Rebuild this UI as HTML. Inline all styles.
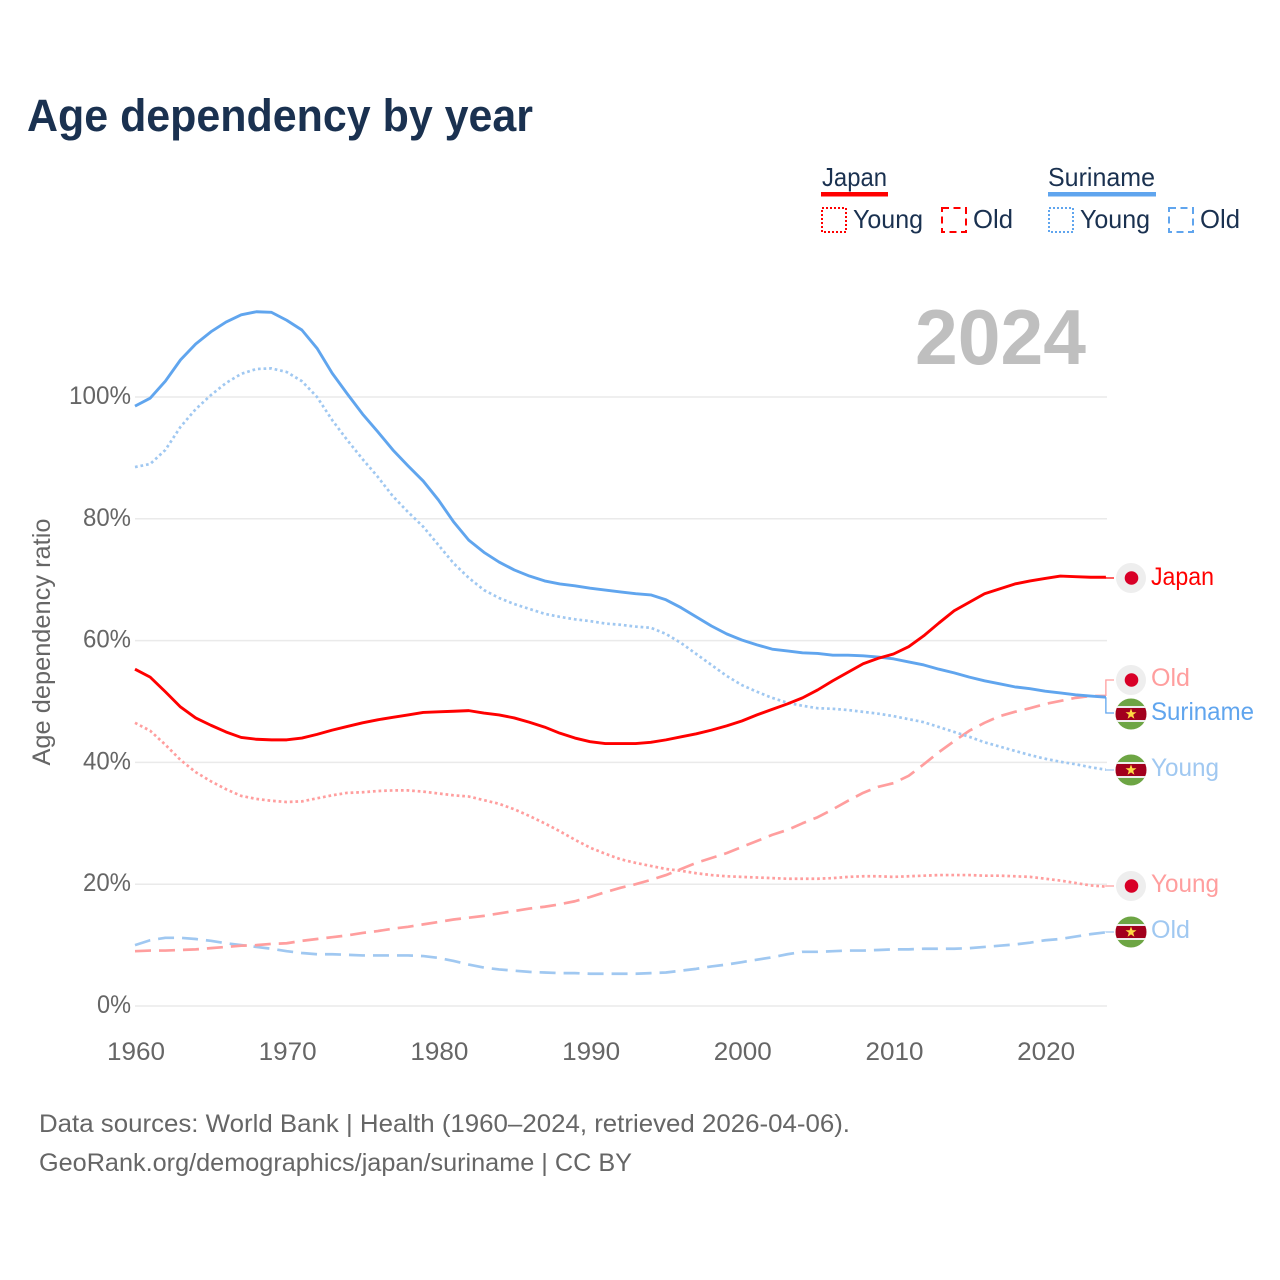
<!DOCTYPE html>
<html lang="en">
<head>
<meta charset="utf-8">
<title>Age dependency by year</title>
<style>
html,body{margin:0;padding:0;background:#fff;}
svg{display:block;font-family:"Liberation Sans",sans-serif;}
</style>
</head>
<body>
<svg id="chart" xmlns="http://www.w3.org/2000/svg" width="1280" height="1280" viewBox="0 0 1280 1280">
  <defs>
    <clipPath id="flag-clip"><circle cx="0" cy="0" r="15.5"/></clipPath>
    <g id="sr-flag" clip-path="url(#flag-clip)">
      <rect x="-16" y="-16" width="32" height="32" fill="#6da544"/>
      <rect x="-16" y="-8" width="32" height="16" fill="#eeeeee"/>
      <rect x="-16" y="-6" width="32" height="12" fill="#a2001d"/>
      <polygon points="0,-5.5 1.4,-1.7 5.5,-1.7 2.2,0.8 3.4,4.7 0,2.4 -3.4,4.7 -2.2,0.8 -5.5,-1.7 -1.4,-1.7" fill="#ffda44"/>
    </g>
  </defs>
  <rect width="1280" height="1280" fill="#fff"/>
  <text x="27" y="131" font-size="45" font-weight="700" fill="#1a3150" textLength="506" lengthAdjust="spacingAndGlyphs">Age dependency by year</text>

  <g font-size="26" fill="#1a3150">
    <text x="822" y="186" textLength="65" lengthAdjust="spacingAndGlyphs">Japan</text>
    <rect x="821" y="192" width="67" height="4.5" fill="#ff0000"/>
    <rect x="822" y="208" width="24" height="24" fill="none" stroke="#ff0000" stroke-width="2" stroke-dasharray="2 2"/>
    <text x="853" y="228" textLength="70" lengthAdjust="spacingAndGlyphs">Young</text>
    <rect x="942" y="208" width="24" height="24" fill="none" stroke="#ff0000" stroke-width="2" stroke-dasharray="7 4.5"/>
    <text x="973" y="228" textLength="40" lengthAdjust="spacingAndGlyphs">Old</text>
    <text x="1048" y="186" textLength="107" lengthAdjust="spacingAndGlyphs">Suriname</text>
    <rect x="1048" y="192" width="108" height="4.5" fill="#60a5ee"/>
    <rect x="1049" y="208" width="24" height="24" fill="none" stroke="#60a5ee" stroke-width="2" stroke-dasharray="2 2"/>
    <text x="1080" y="228" textLength="70" lengthAdjust="spacingAndGlyphs">Young</text>
    <rect x="1169" y="208" width="24" height="24" fill="none" stroke="#60a5ee" stroke-width="2" stroke-dasharray="7 4.5"/>
    <text x="1200" y="228" textLength="40" lengthAdjust="spacingAndGlyphs">Old</text>
  </g>

  <g id="grid"></g>
  <g id="yticks" font-size="25" fill="#666" text-anchor="end"></g>
  <g id="xticks" font-size="25" fill="#666" text-anchor="middle"></g>
  <text transform="translate(50,642) rotate(-90)" font-size="25" fill="#666" text-anchor="middle" textLength="247" lengthAdjust="spacingAndGlyphs">Age dependency ratio</text>
  <text x="915" y="364" font-size="78" font-weight="700" fill="#bfbfbf" textLength="171" lengthAdjust="spacingAndGlyphs">2024</text>

  <g id="series" fill="none" stroke-linejoin="round"></g>
  <g id="connectors" fill="none" stroke-width="1.3"></g>

  <g>
    <g><circle cx="1131" cy="578" r="15" fill="#eee"/><circle cx="1131.5" cy="578" r="6.8" fill="#d80027"/></g>
    <text x="1151" y="585" font-size="25" fill="#ff0000" textLength="63" lengthAdjust="spacingAndGlyphs">Japan</text>
    <g><circle cx="1131" cy="680" r="15" fill="#eee"/><circle cx="1131.5" cy="680" r="6.8" fill="#d80027"/></g>
    <text x="1151" y="686" font-size="25" fill="#ff9e9e" textLength="39" lengthAdjust="spacingAndGlyphs">Old</text>
    <use href="#sr-flag" transform="translate(1131,714)"/>
    <text x="1151" y="720" font-size="25" fill="#60a5ee" textLength="103" lengthAdjust="spacingAndGlyphs">Suriname</text>
    <use href="#sr-flag" transform="translate(1131,770)"/>
    <text x="1151" y="776" font-size="25" fill="#a0c8f1" textLength="68" lengthAdjust="spacingAndGlyphs">Young</text>
    <g><circle cx="1131" cy="886" r="15" fill="#eee"/><circle cx="1131.5" cy="886" r="6.8" fill="#d80027"/></g>
    <text x="1151" y="892" font-size="25" fill="#ff9e9e" textLength="68" lengthAdjust="spacingAndGlyphs">Young</text>
    <use href="#sr-flag" transform="translate(1131,932)"/>
    <text x="1151" y="938" font-size="25" fill="#a0c8f1" textLength="39" lengthAdjust="spacingAndGlyphs">Old</text>
  </g>

  <g font-size="25" fill="#666">
    <text x="39" y="1132" textLength="811" lengthAdjust="spacingAndGlyphs">Data sources: World Bank | Health (1960–2024, retrieved 2026-04-06).</text>
    <text x="39" y="1171" textLength="593" lengthAdjust="spacingAndGlyphs">GeoRank.org/demographics/japan/suriname | CC BY</text>
  </g>
</svg>
<script>
const startYear = 1960;
const yTickValues = [0, 20, 40, 60, 80, 100];
const xTickValues = [1960, 1970, 1980, 1990, 2000, 2010, 2020];

const surinameTotal = [98.5,99.8,102.6,106.1,108.7,110.7,112.3,113.5,114.0,113.9,112.6,111.0,108.0,103.9,100.5,97.2,94.3,91.3,88.7,86.2,83.1,79.5,76.5,74.5,72.9,71.6,70.6,69.8,69.3,69.0,68.6,68.3,68.0,67.7,67.5,66.7,65.4,63.9,62.4,61.1,60.1,59.3,58.6,58.3,58.0,57.9,57.6,57.6,57.5,57.3,57.0,56.5,56.0,55.3,54.7,54.0,53.4,52.9,52.4,52.1,51.7,51.4,51.1,50.9,50.7];
const surinameYoung = [88.5,89.0,91.3,95.1,98.0,100.3,102.3,103.8,104.6,104.7,104.1,102.6,100.0,96.2,92.9,89.8,86.9,83.7,81.1,78.7,75.7,72.7,70.3,68.3,67.0,66.0,65.2,64.4,63.9,63.5,63.2,62.8,62.6,62.3,62.1,61.1,59.6,57.8,56.0,54.2,52.7,51.6,50.6,49.8,49.3,48.9,48.8,48.6,48.3,48.0,47.6,47.1,46.6,45.8,45.0,44.2,43.3,42.6,41.9,41.2,40.6,40.1,39.7,39.2,38.8];
const surinameOld = [10.0,10.8,11.2,11.2,11.0,10.7,10.3,10.0,9.7,9.4,9.0,8.7,8.5,8.5,8.4,8.3,8.3,8.3,8.3,8.2,7.9,7.4,6.8,6.3,6.0,5.8,5.6,5.5,5.4,5.4,5.3,5.3,5.3,5.3,5.4,5.5,5.8,6.1,6.5,6.8,7.2,7.6,8.0,8.5,8.9,8.9,9.0,9.1,9.1,9.2,9.3,9.3,9.4,9.4,9.4,9.5,9.7,9.9,10.1,10.4,10.8,11.0,11.4,11.8,12.1];
const japanTotal = [55.3,54.0,51.6,49.1,47.3,46.1,45.0,44.1,43.8,43.7,43.7,44.0,44.6,45.3,45.9,46.5,47.0,47.4,47.8,48.2,48.3,48.4,48.5,48.1,47.8,47.3,46.6,45.8,44.8,44.0,43.4,43.1,43.1,43.1,43.3,43.7,44.2,44.7,45.3,46.0,46.8,47.8,48.7,49.6,50.6,51.9,53.4,54.8,56.2,57.1,57.8,59.0,60.8,62.9,64.9,66.3,67.7,68.5,69.3,69.8,70.2,70.6,70.5,70.4,70.4];
const japanYoung = [46.5,45.2,42.9,40.4,38.4,36.9,35.6,34.5,34.0,33.7,33.5,33.6,34.1,34.6,35.0,35.1,35.3,35.4,35.4,35.2,34.9,34.6,34.4,33.8,33.2,32.3,31.2,30.0,28.7,27.3,26.0,25.0,24.1,23.5,23.0,22.5,22.2,21.8,21.5,21.3,21.2,21.1,21.0,20.9,20.9,20.9,21.0,21.2,21.3,21.3,21.2,21.3,21.4,21.5,21.5,21.5,21.4,21.4,21.3,21.2,20.9,20.6,20.2,19.8,19.6];
const japanOld = [9.0,9.1,9.1,9.2,9.3,9.5,9.7,9.9,10.0,10.2,10.3,10.7,11.0,11.3,11.6,12.0,12.3,12.7,13.0,13.4,13.8,14.2,14.5,14.8,15.2,15.6,16.0,16.3,16.7,17.2,17.9,18.7,19.4,20.0,20.7,21.5,22.5,23.5,24.3,25.1,26.1,27.1,28.1,28.9,30.0,31.0,32.3,33.7,35.0,36.0,36.6,37.8,39.7,41.7,43.5,45.2,46.5,47.6,48.3,48.9,49.6,50.1,50.6,50.9,50.9];

const NS = 'http://www.w3.org/2000/svg';
const xScale = function (year) { return 135 + (year - 1960) * 15.17; };
const yScale = function (value) { return 1006 - value * 6.09; };
const xEnd = xScale(2024);

function make(tag, parent, attrs) {
  const el = document.createElementNS(NS, tag);
  Object.keys(attrs).forEach(function (k) { el.setAttribute(k, attrs[k]); });
  parent.appendChild(el);
  return el;
}

yTickValues.forEach(function (v) {
  const line = make('line', document.getElementById('grid'), { x1: 135, x2: 1107, y1: yScale(v), y2: yScale(v), stroke: '#eaeaea', 'stroke-width': 1.5 });
  
  
  const label = make('text', document.getElementById('yticks'), { x: 131, y: yScale(v) + 7 });
  
  
  label.setAttribute('textLength', v === 100 ? 62 : (v === 0 ? 34 : 48));
  label.setAttribute('lengthAdjust', 'spacingAndGlyphs');
  label.textContent = v + '%';
});

xTickValues.forEach(function (y) {
  const label = make('text', document.getElementById('xticks'), { x: xScale(y) + 1, y: 1060 });
  
  
  label.setAttribute('textLength', 58);
  label.setAttribute('lengthAdjust', 'spacingAndGlyphs');
  label.textContent = y;
});

function drawSeries(values, name, color, width, dash) {
  const d = values.map(function (v, i) {
    return (i ? 'L' : 'M') + xScale(startYear + i).toFixed(2) + ' ' + yScale(v).toFixed(2);
  }).join('');
  const attrs = { d: d, stroke: color, 'stroke-width': width };
  if (dash) { attrs['stroke-dasharray'] = dash; }
  const path = make('path', document.getElementById('series'), attrs);
  
  
}

drawSeries(surinameOld, 'line-suriname-old', '#a0c8f1', 2.7, '16 8');
drawSeries(japanOld, 'line-japan-old', '#ff9e9e', 2.7, '16 8');
drawSeries(surinameYoung, 'line-suriname-young', '#a0c8f1', 2.7, '2.7 2.9');
drawSeries(japanYoung, 'line-japan-young', '#ff9e9e', 2.7, '2.7 2.9');
drawSeries(surinameTotal, 'line-suriname-total', '#60a5ee', 2.9, null);
drawSeries(japanTotal, 'line-japan-total', '#ff0000', 2.9, null);

function drawConnector(values, name, color, labelY) {
  const from = yScale(values[values.length - 1]);
  const d = 'M' + xEnd.toFixed(2) + ' ' + from.toFixed(2) + 'V' + labelY + 'H1114';
  const path = make('path', document.getElementById('connectors'), { d: d, stroke: color });
  
  
}

drawConnector(japanTotal, 'connector-japan', '#ff0000', 578);
drawConnector(japanOld, 'connector-japan-old', '#ff9e9e', 680);
drawConnector(surinameTotal, 'connector-suriname', '#60a5ee', 713);
drawConnector(surinameYoung, 'connector-suriname-young', '#a0c8f1', 770);
drawConnector(japanYoung, 'connector-japan-young', '#ff9e9e', 886);
drawConnector(surinameOld, 'connector-suriname-old', '#a0c8f1', 932);
</script>
</body>
</html>
